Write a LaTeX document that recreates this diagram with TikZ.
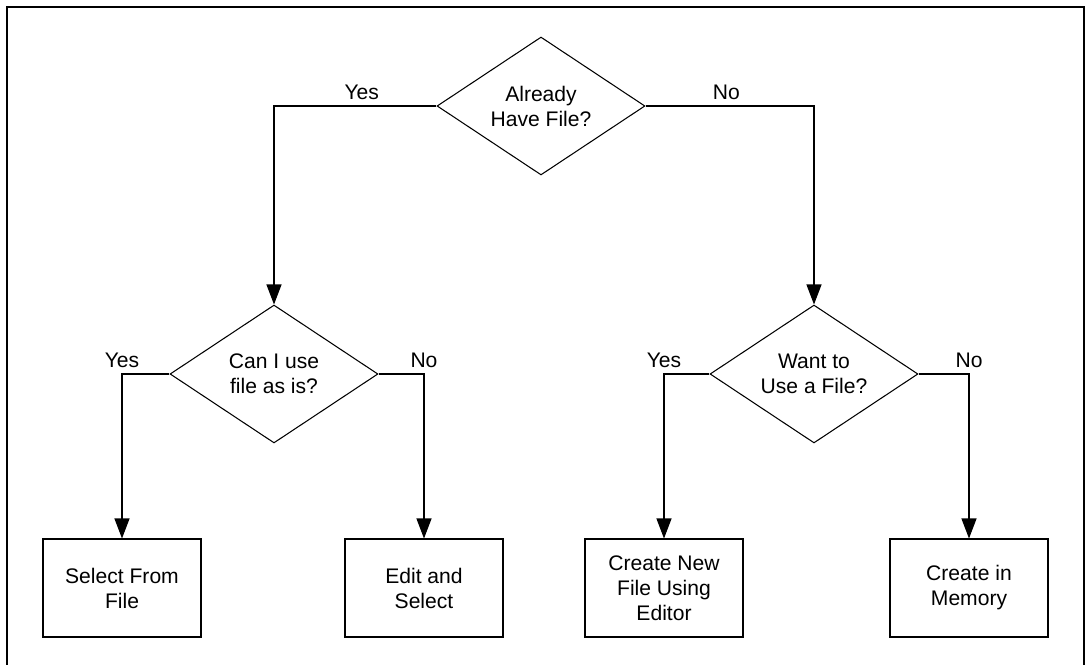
\documentclass[tikz,border=0pt]{standalone}
\usepackage{fontspec}
\setmainfont{Liberation Sans}
\usetikzlibrary{shapes.geometric,arrows.meta}

\begin{document}
\begin{tikzpicture}[x=0.02cm,y=-0.02cm,
	line width=0.6pt,
	font=\fontsize{12}{14.2}\selectfont,
	decision/.style={diamond,draw,aspect=1.5,inner sep=0pt,minimum width=4.16cm,minimum height=2.76cm,align=center},
	action/.style={rectangle,draw,inner sep=0pt,minimum width=3.16cm,minimum height=1.96cm,align=center},
	flow/.style={-{Triangle[length=0.4cm,width=0.3cm]}}]
	\useasboundingbox (0,0) rectangle (1086,665);
	\draw[line width=1.4pt] (7,665) -- (7,7) -- (1084,7) -- (1084,665);
	% questions
	\node[decision] (havefile) at (541,106) {Already\\Have File?};
	\node[decision] (useasis) at (274,374) {Can I use\\file as is?};
	\node[decision] (wantfile) at (814,374) {Want to\\Use a File?};
	% outcomes
	\node[action] (select) at (122,588) {Select From\\File};
	\node[action] (editsel) at (424,588) {Edit and\\Select};
	\node[action] (newfile) at (664,588) {Create New\\File Using\\Editor};
	\node[action] (inmemory) at (969,588) {Create in\\Memory};
	% branches
	\draw[flow] (havefile.west) -| node[pos=0.23,above] (yestop) {Yes} (useasis.north);
	\draw[flow] (havefile.east) -| node[pos=0.24,above] (notop) {No} (wantfile.north);
	\draw[flow] (useasis.west) -| node[pos=0.5,above] (yesleft) {Yes} (select.north);
	\draw[flow] (useasis.east) -| node[pos=0.5,above] (noleft) {No} (editsel.north);
	\draw[flow] (wantfile.west) -| node[pos=0.5,above] (yesright) {Yes} (newfile.north);
	\draw[flow] (wantfile.east) -| node[pos=0.5,above] (noright) {No} (inmemory.north);
\end{tikzpicture}
\end{document}
